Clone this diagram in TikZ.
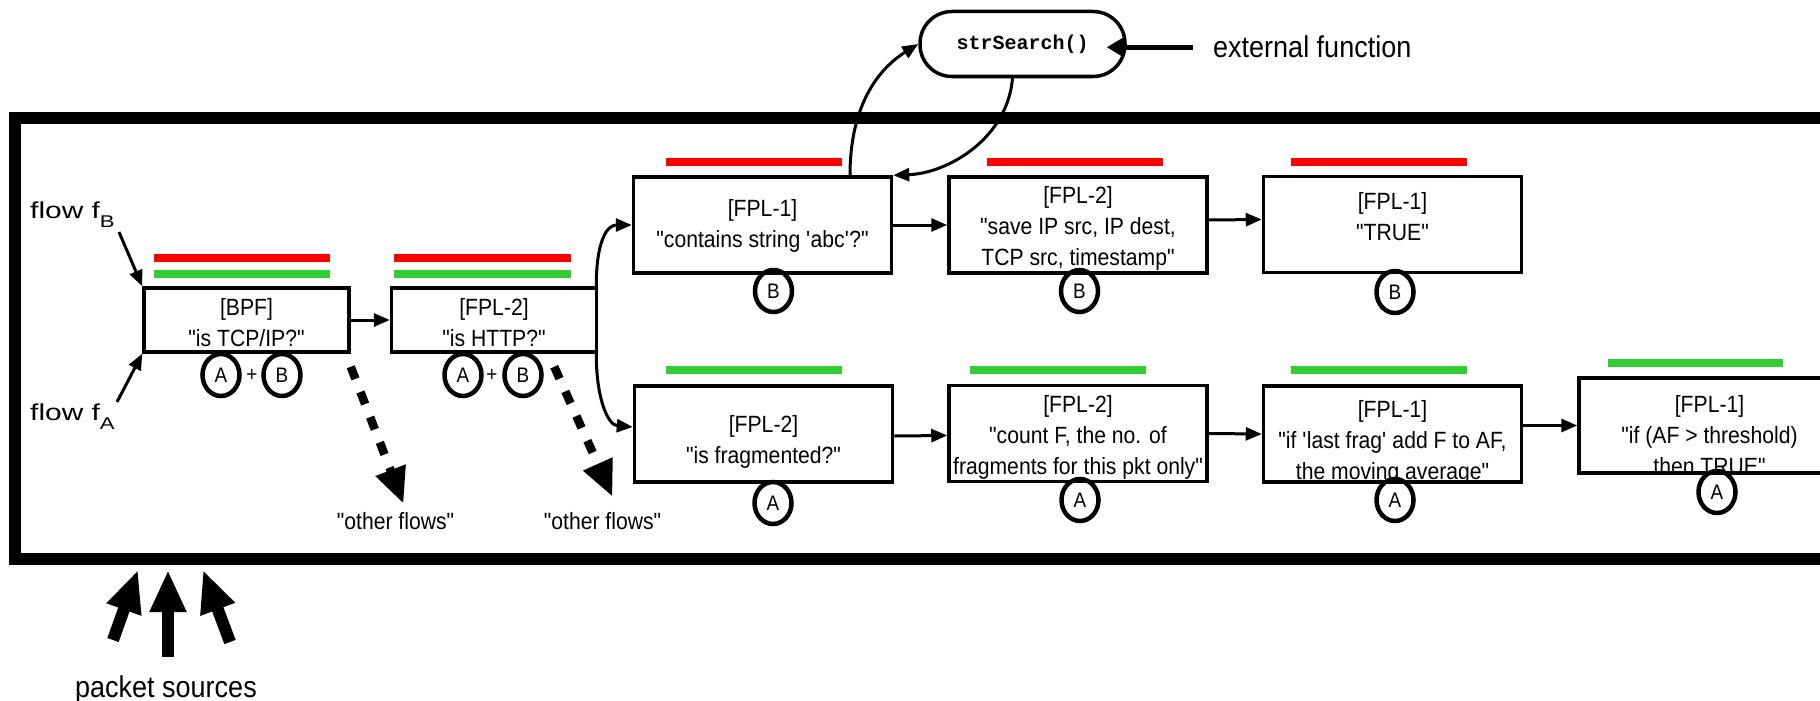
\documentclass[tikz,border=0pt]{standalone}
\usepackage{fontspec}
\setmainfont{Liberation Sans}
\newfontfamily\lblfont[FakeStretch=0.9]{Liberation Sans}
\newfontfamily\flowfont[FakeStretch=1.3]{Liberation Sans}
\newfontfamily\codefont{Liberation Mono}
\usetikzlibrary{arrows.meta,shapes.geometric,calc}
\definecolor{barred}{RGB}{255,0,0}
\definecolor{bargreen}{RGB}{50,205,50}

\begin{document}
\begin{tikzpicture}[x=1pt,y=-1pt,
  box/.style={draw,line width=3.5pt,rectangle,inner sep=0pt,minimum width=258pt,minimum height=96pt},
  smallbox/.style={box,minimum width=205pt,minimum height=64pt},
  lbl/.style={font=\lblfont\fontsize{23.5}{31}\selectfont,align=center,inner sep=0pt},
  tag/.style={draw,ellipse,line width=4.5pt,minimum width=37pt,minimum height=42pt,inner sep=0pt,font=\lblfont\fontsize{21}{21}\selectfont},
  plus/.style={inner sep=0pt,font=\lblfont\fontsize{21}{21}\selectfont},
  arr/.style={line width=3pt,-{Triangle[length=16pt,width=13pt]}},
  extarr/.style={line width=5pt,-{Triangle[length=17pt,width=19pt]}},
  redbar/.style={line width=8pt,barred},
  greenbar/.style={line width=8pt,bargreen},
  dasharr/.style={line width=8.5pt,dash pattern=on 13pt off 14pt,-{Triangle[length=36pt,width=30pt]}},
  bigarr/.style={line width=12pt,-{Triangle[length=42pt,width=34pt]}},
]
\useasboundingbox (0,0) rectangle (1820,701);
\clip (0,0) rectangle (1820,701);
\fill[white] (0,0) rectangle (1820,701);

% enclosing frame (open to the right)
\draw[line width=12pt] (15,117.5) rectangle (1900,559);

% external function
\node[draw,line width=3.5pt,rounded corners=32pt,minimum width=205pt,minimum height=65pt,inner sep=0pt,
      font=\codefont\bfseries\fontsize{20}{20}\selectfont] (ss) at (1022.5,44) {strSearch()};
\node[anchor=base west,inner sep=0pt,font=\lblfont\fontsize{30}{30}\selectfont] (ext) at (1213,58) {external function};
\draw[extarr] ([xshift=-20pt]ext.west) -- ([xshift=-20pt]ext.west -| ss.east);

% filter boxes
\node[smallbox] (bpf) at (246.5,320) {};
\node[smallbox] (http) at (494,320) {};
\node[box] (c1) at (762.5,225) {};
\node[box] (s1) at (1078,225) {};
\node[box] (t1) at (1392.5,224.5) {};
\node[box] (f2) at (763.5,434) {};
\node[box] (c2) at (1078,433.5) {};
\node[box] (l2) at (1392.5,434) {};
\node[box,minimum width=261pt,minimum height=95pt] (a2) at (1709.5,425.5) {};

% box texts
\node[lbl] (bpftxt) at (246.5,323) {[BPF]\\"is TCP/IP?"};
\node[lbl] (httptxt) at (494,323) {[FPL-2]\\"is HTTP?"};
\node[lbl] (c1txt) at (762.5,226) {[FPL-1]\\"contains string \textquotesingle abc\textquotesingle ?"};
\node[lbl] (s1txt) at (1078,228) {[FPL-2]\\"save IP src, IP dest,\\TCP src, timestamp"};
\node[lbl] (t1txt) at (1392.5,217) {[FPL-1]\\"TRUE"};
\node[lbl] (f2txt) at (763.5,442) {[FPL-2]\\"is fragmented?"};
\node[lbl] (c2txt) at (1078,437) {[FPL-2]\\"count F, the no. of\\fragments for this pkt only"};
\node[lbl] (l2txt) at (1392.5,442) {[FPL-1]\\"if \textquotesingle last frag\textquotesingle{} add F to AF,\\the moving average"};
\node[lbl] (a2txt) at (1709.5,435) {[FPL-1]\\"if (AF > threshold)\\then TRUE"};

% flow colour bars
\draw[redbar] (154,258) -- (330,258);
\draw[greenbar] (154,274) -- (330,274);
\draw[redbar] (394,258) -- (571,258);
\draw[greenbar] (394,274) -- (571,274);
\draw[redbar] (666,162) -- (842,162);
\draw[redbar] (987,162) -- (1163,162);
\draw[redbar] (1291,162) -- (1467,162);
\draw[greenbar] (666,370) -- (842,370);
\draw[greenbar] (970,370) -- (1146,370);
\draw[greenbar] (1291,370) -- (1467,370);
\draw[greenbar] (1608,363) -- (1783,363);

% flow tags
\node[tag] (bpfA) at (221,375) {A};
\node[plus] (bpfplus) at (252,375) {+};
\node[tag] (bpfB) at (282,375) {B};
\node[tag] (httpA) at (463,375) {A};
\node[plus] (httpplus) at (492,375) {+};
\node[tag] (httpB) at (523,375) {B};
\node[tag] (c1B) at (773.5,291) {B};
\node[tag] (s1B) at (1079.5,291) {B};
\node[tag] (t1B) at (1395,292) {B};
\node[tag] (f2A) at (773,503) {A};
\node[tag] (c2A) at (1080,500) {A};
\node[tag] (l2A) at (1395,500) {A};
\node[tag] (a2A) at (1717,492) {A};

% incoming flows
\node[anchor=base west,inner sep=0pt,font=\flowfont\fontsize{23}{23}\selectfont] (flowB) at (30,218)
  {flow f\raisebox{-9pt}{\fontsize{17}{17}\selectfont B}};
\node[anchor=base west,inner sep=0pt,font=\flowfont\fontsize{23}{23}\selectfont] (flowA) at (30,420)
  {flow f\raisebox{-9pt}{\fontsize{17}{17}\selectfont A}};
\coordinate (fBtail) at (119,232);
\coordinate (fAtail) at (117,402);
\draw[arr] (fBtail) -- (bpf.north west);
\draw[arr] (fAtail) -- (bpf.south west);

% chain connectors
\draw[arr] (bpf.east) -- (http.west);
\draw[arr] ([xshift=-2pt]http.north east) .. controls +(0,-45) and +(-25,0) .. (c1.west);
\draw[arr] ([xshift=-2pt]http.south east) .. controls +(0,45) and +(-25,-2) .. ([yshift=7pt]f2.west);
\draw[arr] (c1.east) -- (s1.west);
\draw[arr] ([yshift=5pt]s1.east) -- ([yshift=5pt]t1.west);
\draw[arr] ([yshift=-2pt]f2.east) -- ([yshift=-2pt]c2.west);
\draw[arr] (c2.east) -- (l2.west);
\draw[arr] (a2.west -| l2.east) -- (a2.west);

% call out to strSearch() and back
\draw[arr] ([xshift=87.5pt]c1.north) .. controls +(0,-70) and +(-40,25) .. (ss.west);
\draw[arr] ([xshift=-10pt]ss.south) .. controls +(-5,60) and +(55,-2) .. (c1.north east);

% packets leaving to other flows
\node[anchor=base,inner sep=0pt,font=\lblfont\fontsize{23.5}{23.5}\selectfont] (of1) at (395.5,529) {"other flows"};
\node[anchor=base,inner sep=0pt,font=\lblfont\fontsize{23.5}{23.5}\selectfont] (of2) at (602.5,529) {"other flows"};
\draw[dasharr] ([yshift=-13pt]bpf.south east) -- ([xshift=8pt,yshift=8pt]of1.north);
\draw[dasharr] ([xshift=-44pt,yshift=-13pt]http.south east) -- ([xshift=10pt,yshift=15pt]of2.north);

% packet sources
\node[anchor=base,inner sep=0pt,font=\lblfont\fontsize{30}{30}\selectfont] (ps) at (166,697) {packet sources};
\coordinate (src1) at (113,640);
\coordinate (src2) at (168,657);
\coordinate (src3) at (230,642);
\coordinate (in1) at (138,570);
\coordinate (in2) at (168,570);
\coordinate (in3) at (203,570);
\draw[bigarr] (src1) -- (in1);
\draw[bigarr] (src2) -- (in2);
\draw[bigarr] (src3) -- (in3);
\end{tikzpicture}
\end{document}
